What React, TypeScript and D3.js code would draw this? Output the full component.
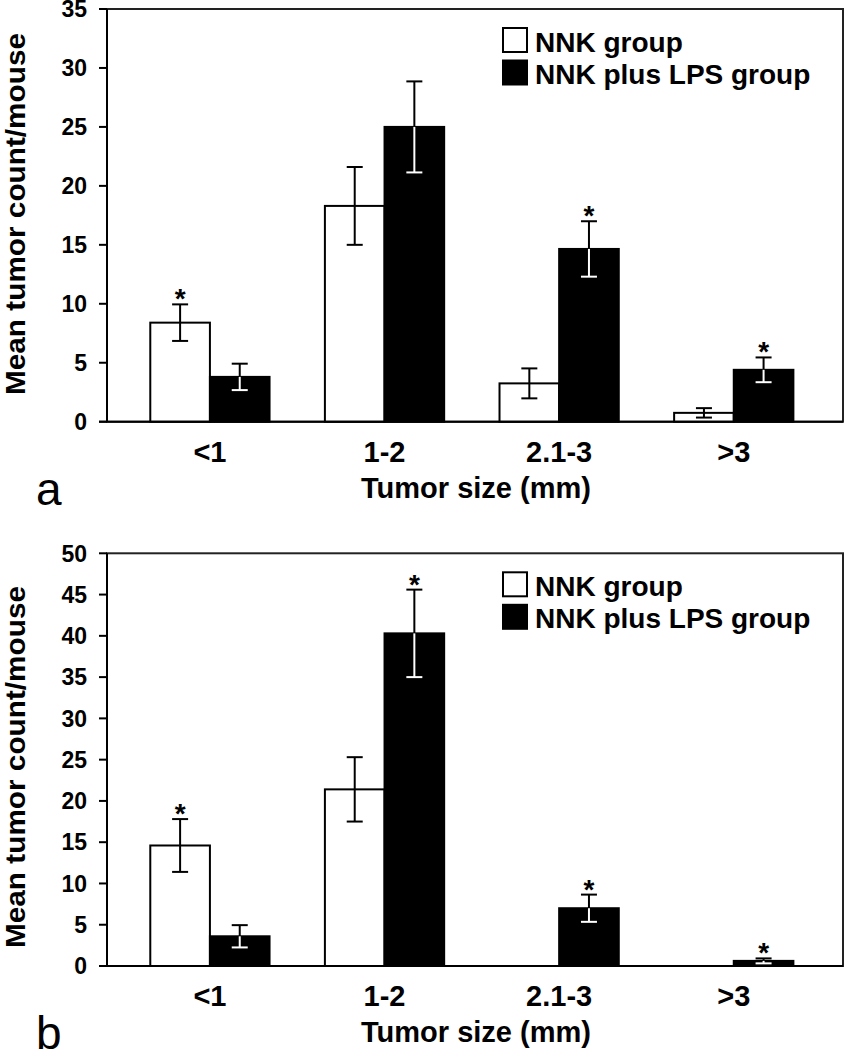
import React from "react";
import * as d3 from "d3";

const categories = ["<1", "1-2", "2.1-3", ">3"];
const seriesNames = ["NNK group", "NNK plus LPS group"];

// Panel a
const aNnk = [8.4, 18.3, 3.25, 0.75];
const aNnkErr = [1.55, 3.3, 1.27, 0.4];
const aLps = [3.8, 25.0, 14.65, 4.4];
const aLpsErr = [1.12, 3.86, 2.35, 1.05];
const aNnkSig = [true, false, false, false];
const aLpsSig = [false, false, true, true];
const aTicks = [0, 5, 10, 15, 20, 25, 30, 35];

// Panel b
const bNnk = [14.6, 21.4, 0, 0];
const bNnkErr = [3.2, 3.9, 0, 0];
const bLps = [3.6, 40.3, 7.0, 0.62];
const bLpsErr = [1.35, 5.3, 1.65, 0.3];
const bNnkSig = [true, false, false, false];
const bLpsSig = [false, true, true, true];
const bTicks = [0, 5, 10, 15, 20, 25, 30, 35, 40, 45, 50];

const FONT = "'Liberation Sans', Arial, Helvetica, sans-serif";

type PanelProps = {
  top: number;
  bottom: number;
  yMax: number;
  ticks: number[];
  nnk: number[];
  nnkErr: number[];
  lps: number[];
  lpsErr: number[];
  nnkSig: boolean[];
  lpsSig: boolean[];
  letter: string;
  titleCenter: number;
};

const LEFT = 107;
const RIGHT = 843;

function Panel(p: PanelProps) {
  const y = d3.scaleLinear().domain([0, p.yMax]).range([p.bottom, p.top]);
  const x = d3
    .scaleBand<string>()
    .domain(categories)
    .range([LEFT, RIGHT])
    .paddingInner(0.317)
    .paddingOuter(0.266)
    .align(0.466);
  const xs = d3.scaleBand<string>().domain(seriesNames).range([0, x.bandwidth()]);
  const capW = 16;

  const series = [
    { name: seriesNames[0], vals: p.nnk, errs: p.nnkErr, sig: p.nnkSig, fill: "#fff" },
    { name: seriesNames[1], vals: p.lps, errs: p.lpsErr, sig: p.lpsSig, fill: "#000" },
  ];

  return (
    <g fontFamily={FONT}>
      {/* frame */}
      <rect x={LEFT} y={p.top} width={RIGHT - LEFT} height={p.bottom - p.top} fill="none" stroke="#222" strokeWidth={2} />
      {/* y ticks */}
      {p.ticks.map((t) => (
        <g key={t}>
          <line x1={LEFT - 8} x2={LEFT} y1={y(t)} y2={y(t)} stroke="#000" strokeWidth={2} />
          <text x={87} y={y(t)} dy="0.36em" textAnchor="end" fontSize={23} fontWeight="bold">
            {t}
          </text>
        </g>
      ))}
      {/* bars */}
      {series.map((s) =>
        categories.map((c, i) => {
          const v = s.vals[i];
          if (v <= 0) return null;
          const bx = (x(c) as number) + (xs(s.name) as number);
          const bw = xs.bandwidth();
          return (
            <rect key={s.name + c} x={bx} y={y(v)} width={bw} height={y(0) - y(v)} fill={s.fill} stroke="#000" strokeWidth={2} />
          );
        })
      )}
      {/* error bars */}
      {series.map((s) =>
        categories.map((c, i) => {
          const v = s.vals[i];
          if (v <= 0) return null;
          const e = s.errs[i];
          const cx = (x(c) as number) + (xs(s.name) as number) + xs.bandwidth() / 2;
          const lowerColor = s.fill === "#000" ? "#fff" : "#000";
          return (
            <g key={"e" + s.name + c} strokeWidth={2}>
              <line x1={cx} x2={cx} y1={y(v + e)} y2={y(v)} stroke="#000" />
              <line x1={cx - capW / 2} x2={cx + capW / 2} y1={y(v + e)} y2={y(v + e)} stroke="#000" />
              <line x1={cx} x2={cx} y1={y(v)} y2={y(Math.max(v - e, 0))} stroke={lowerColor} />
              <line x1={cx - capW / 2} x2={cx + capW / 2} y1={y(Math.max(v - e, 0))} y2={y(Math.max(v - e, 0))} stroke={lowerColor} />
              {s.sig[i] ? (
                <text x={cx} y={y(v + e) + 4} textAnchor="middle" fontSize={28} fontWeight="bold">
                  *
                </text>
              ) : null}
            </g>
          );
        })
      )}
      {/* axes */}
      <line x1={LEFT} x2={LEFT} y1={p.top} y2={p.bottom} stroke="#000" strokeWidth={2} />
      <line x1={LEFT - 8} x2={RIGHT} y1={p.bottom} y2={p.bottom} stroke="#000" strokeWidth={2} />
      {/* x labels */}
      {categories.map((c) => (
        <text key={c} x={(x(c) as number) + x.bandwidth() / 2} y={p.bottom + 40} textAnchor="middle" fontSize={29} fontWeight="bold">
          {c}
        </text>
      ))}
      <text x={(LEFT + RIGHT) / 2 + 1} y={p.bottom + 76} textAnchor="middle" fontSize={29} fontWeight="bold">
        Tumor size (mm)
      </text>
      {/* y title */}
      <text
        transform={`translate(25, ${p.titleCenter}) rotate(-90)`}
        textAnchor="middle"
        fontSize={28}
        fontWeight="bold"
        textLength={362}
        lengthAdjust="spacingAndGlyphs"
      >
        Mean tumor count/mouse
      </text>
      {/* panel letter */}
      <text x={36} y={p.bottom + 83} fontSize={46}>
        {p.letter}
      </text>
      {/* legend */}
      <rect x={503} y={p.top + 19} width={24} height={24} fill="#fff" stroke="#000" strokeWidth={2} />
      <rect x={503} y={p.top + 51.5} width={24} height={24} fill="#000" stroke="#000" strokeWidth={2} />
      <text x={535} y={p.top + 43} fontSize={28} fontWeight="bold">
        {seriesNames[0]}
      </text>
      <text x={535} y={p.top + 75} fontSize={28} fontWeight="bold">
        {seriesNames[1]}
      </text>
    </g>
  );
}

export default function App() {
  return (
    <svg
      width={844}
      height={1050}
      viewBox="0 0 844 1050"
      style={{ position: "absolute", left: 0, top: 0, background: "#fff" }}
    >
      <rect x={0} y={0} width={844} height={1050} fill="#fff" />
      <Panel
        top={9}
        bottom={421.7}
        yMax={35}
        ticks={aTicks}
        nnk={aNnk}
        nnkErr={aNnkErr}
        lps={aLps}
        lpsErr={aLpsErr}
        nnkSig={aNnkSig}
        lpsSig={aLpsSig}
        letter="a"
        titleCenter={214}
      />
      <Panel
        top={553.3}
        bottom={966}
        yMax={50}
        ticks={bTicks}
        nnk={bNnk}
        nnkErr={bNnkErr}
        lps={bLps}
        lpsErr={bLpsErr}
        nnkSig={bNnkSig}
        lpsSig={bLpsSig}
        letter="b"
        titleCenter={767}
      />
    </svg>
  );
}
